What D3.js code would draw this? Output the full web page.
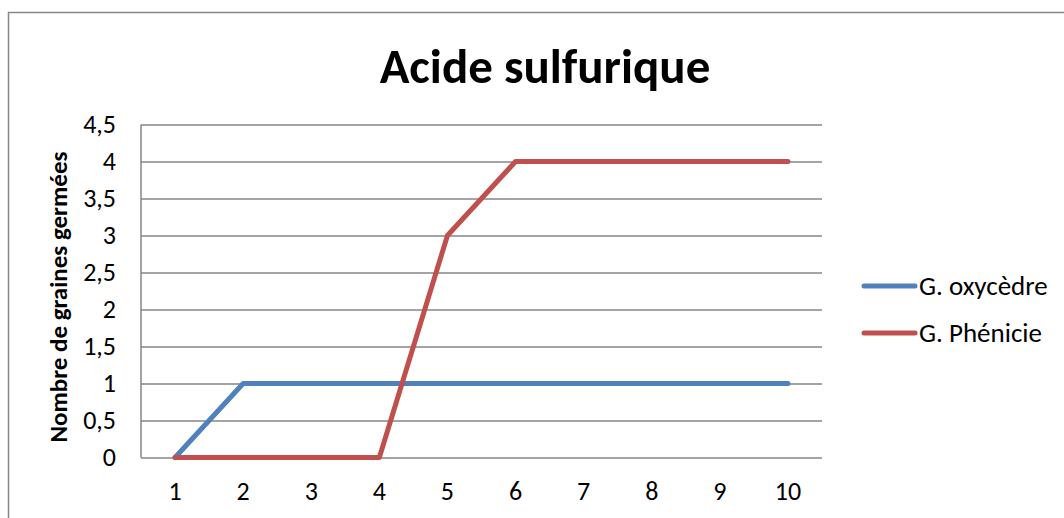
<!DOCTYPE html>
<html>
<head>
<meta charset="utf-8">
<script src="https://cdn.jsdelivr.net/npm/d3@7"></script>
<style>
  body { margin: 0; background: #fff; }
  svg { display: block; font-family: Carlito, "Liberation Sans", Arial, sans-serif; }
</style>
</head>
<body>
<svg id="chart" width="1064" height="518"></svg>
<script>
// data
const categories = ['1', '2', '3', '4', '5', '6', '7', '8', '9', '10'];
const oxycedre = [0, 1, 1, 1, 1, 1, 1, 1, 1, 1];
const phenicie = [0, 0, 0, 0, 3, 4, 4, 4, 4, 4];
const seriesNames = ['G. oxycèdre', 'G. Phénicie'];
const yTicks = [0, 0.5, 1, 1.5, 2, 2.5, 3, 3.5, 4, 4.5];

const svg = d3.select('#chart');
const plot = { left: 141, right: 822, top: 124.5, bottom: 457.5 };

// outer border
svg.append('rect')
  .attr('x', 8.5).attr('y', 12.5)
  .attr('width', 1070).attr('height', 520)
  .style('fill', 'none')
  .style('stroke', '#868686')
  .style('stroke-width', 1.5);

// scales
const scaleX = d3.scaleBand()
  .domain(categories)
  .range([plot.left, plot.right]);

const scaleY = d3.scaleLinear()
  .domain([0, 4.5])
  .range([plot.bottom, plot.top]);

const scaleColor = d3.scaleOrdinal()
  .domain(seriesNames)
  .range(['#4F81BD', '#C0504D']);

// gridlines / y axis
const yAxis = svg.append('g')
  .attr('transform', `translate(${plot.left},0)`)
  .call(d3.axisLeft(scaleY)
    .tickValues(yTicks)
    .tickSize(-(plot.right - plot.left))
    .tickPadding(25)
    .tickFormat(d => String(d).replace('.', ',')))
  .attr('font-family', null)
  .attr('font-size', null);
yAxis.select('.domain').remove();
yAxis.selectAll('line')
  .style('stroke', '#868686')
  .style('stroke-width', 1.5);
yAxis.selectAll('text')
  .style('font-size', '26px')
  .style('fill', '#000');

// left axis line
svg.append('line')
  .attr('x1', plot.left).attr('x2', plot.left)
  .attr('y1', plot.top).attr('y2', plot.bottom)
  .style('stroke', '#868686')
  .style('stroke-width', 1.5);

// x axis labels
const xAxis = svg.append('g')
  .attr('transform', `translate(0,${plot.bottom})`)
  .call(d3.axisBottom(scaleX).tickSize(0).tickPadding(24))
  .attr('font-family', null)
  .attr('font-size', null);
xAxis.select('.domain').remove();
xAxis.selectAll('text')
  .style('font-size', '26px')
  .style('fill', '#000');

// lines
const line = d3.line()
  .x((d, i) => scaleX(categories[i]) + scaleX.bandwidth() / 2)
  .y(d => scaleY(d));

[oxycedre, phenicie].forEach((values, k) => {
  svg.append('path')
    .datum(values)
    .attr('d', line)
    .style('fill', 'none')
    .style('stroke', scaleColor(seriesNames[k]))
    .style('stroke-width', 5)
    .style('stroke-linejoin', 'round')
    .style('stroke-linecap', 'round');
});

// title
svg.append('text')
  .text('Acide sulfurique')
  .attr('x', 545)
  .attr('y', 83)
  .style('font-size', '49px')
  .style('font-weight', 'bold')
  .style('text-anchor', 'middle');

// y axis title
svg.append('text')
  .text('Nombre de graines germées')
  .attr('transform', 'translate(67,297) rotate(-90)')
  .style('font-size', '25px')
  .style('font-weight', 'bold')
  .style('text-anchor', 'middle');

// legend
const legend = svg.append('g');
seriesNames.forEach((name, i) => {
  const y = 286 + i * 47;
  legend.append('line')
    .attr('x1', 864).attr('x2', 915)
    .attr('y1', y).attr('y2', y)
    .style('stroke', scaleColor(name))
    .style('stroke-width', 5)
    .style('stroke-linecap', 'round');
  legend.append('text')
    .text(name)
    .attr('x', 919)
    .attr('y', y + 9)
    .style('font-size', '27px');
});
</script>
</body>
</html>
